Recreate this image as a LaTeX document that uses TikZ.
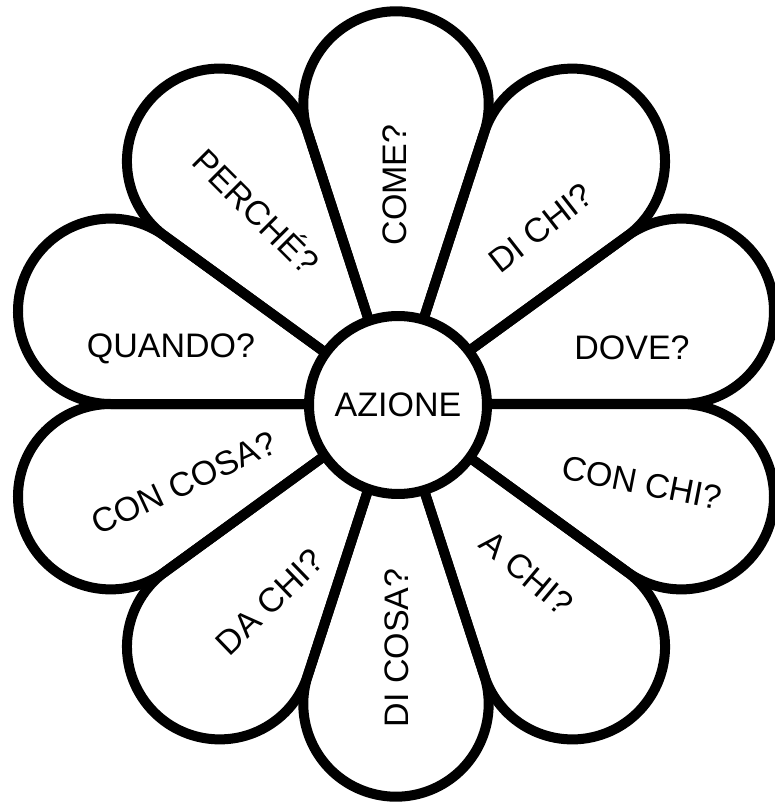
\documentclass[tikz,border=0pt]{standalone}
\usepackage{fontspec}
\setmainfont{Liberation Sans}
\begin{document}
\begin{tikzpicture}[x=1pt,y=1pt,line width=10pt,line join=round,font=\fontsize{34}{40}\selectfont]
         \useasboundingbox (-396,-399) rectangle (379,404);
         \draw (0,0) -- (72:285.3) arc[start angle=-18,end angle=198,radius=92.7pt] -- cycle;
         \draw (0,0) -- (36:285.3) arc[start angle=-54,end angle=162,radius=92.7pt] -- cycle;
         \draw (0,0) -- (0:285.3) arc[start angle=-90,end angle=126,radius=92.7pt] -- cycle;
         \draw (0,0) -- (-36:285.3) arc[start angle=-126,end angle=90,radius=92.7pt] -- cycle;
         \draw (0,0) -- (-72:285.3) arc[start angle=-162,end angle=54,radius=92.7pt] -- cycle;
         \draw (0,0) -- (-108:285.3) arc[start angle=-198,end angle=18,radius=92.7pt] -- cycle;
         \draw (0,0) -- (-144:285.3) arc[start angle=-234,end angle=-18,radius=92.7pt] -- cycle;
         \draw (0,0) -- (180:285.3) arc[start angle=90,end angle=306,radius=92.7pt] -- cycle;
         \draw (0,0) -- (144:285.3) arc[start angle=54,end angle=270,radius=92.7pt] -- cycle;
         \draw (0,0) -- (108:285.3) arc[start angle=18,end angle=234,radius=92.7pt] -- cycle;
         \node[draw,circle,fill=white,inner sep=0pt,minimum size=178pt] (azione) at (2,-1) {AZIONE};
         \node[rotate=90] (come) at (-1,219) {COME?};
         \node[rotate=38] (dichi) at (145,176) {DI CHI?};
         \node (dove) at (236,56) {DOVE?};
         \node[rotate=-11] (conchi) at (246,-79) {CON CHI?};
         \node[rotate=-40] (achi) at (131,-169) {A CHI?};
         \node[rotate=90] (dicosa) at (1,-244) {DI COSA?};
         \node[rotate=44] (dachi) at (-126,-198) {DA CHI?};
         \node[rotate=25] (concosa) at (-212,-79) {CON COSA?};
         \node (quando) at (-225,55) {QUANDO?};
         \node[rotate=-45] (perche) at (-138,194) {PERCHÉ?};
\end{tikzpicture}
\end{document}
